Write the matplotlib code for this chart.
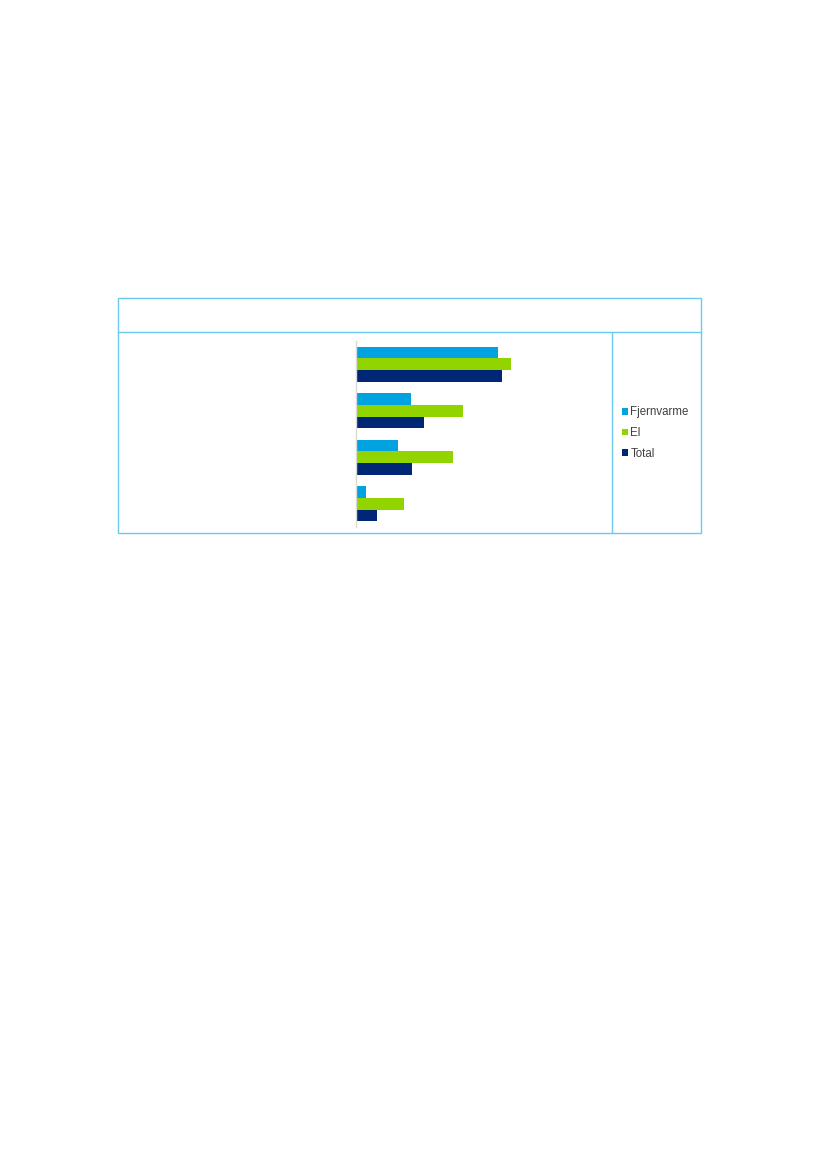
import matplotlib.pyplot as plt
import numpy as np
from matplotlib.patches import Rectangle
from matplotlib.lines import Line2D

plt.rcParams['font.family'] = ['Liberation Sans', 'DejaVu Sans']

W, H = 826, 1169

# groups top to bottom (no labels shown in the reference)
groups = ["A", "B", "C", "D"]
series = ["Fjernvarme", "El", "Total"]
fjernvarme = [29.6, 11.5, 8.7, 2.0]
el = [32.3, 22.2, 20.2, 10.1]
total = [30.4, 14.2, 11.7, 4.4]
colors = ['#00A3E0', '#92D400', '#002776']

fig = plt.figure(figsize=(W / 100, H / 100), dpi=100)


def fx(px):
    return px / W


def fy(py):
    return 1 - py / H


# frame around the chart, header line and legend divider
border = '#6CC9EF'
fig.add_artist(Rectangle((fx(118), fy(533)), fx(701) - fx(118), fy(298) - fy(533),
                         transform=fig.transFigure, fill=False, edgecolor=border, lw=1.0))
fig.add_artist(Line2D([fx(118), fx(701)], [fy(332), fy(332)], transform=fig.transFigure,
                      color=border, lw=1.0))
fig.add_artist(Line2D([fx(612), fx(612)], [fy(332), fy(533)], transform=fig.transFigure,
                      color=border, lw=1.0))

# plot area
ax = fig.add_axes([fx(356), fy(527), fx(596) - fx(356), fy(341) - fy(527)])
y = np.arange(len(groups))
h = 0.25
for off, vals, name, c in zip([-h, 0, h], [fjernvarme, el, total], series, colors):
    ax.barh(y + off, vals, height=h, color=c, label=name)

ax.set_xlim(0, 50)
ax.set_ylim(len(groups) - 0.5, -0.5)
for s in ['top', 'right', 'bottom']:
    ax.spines[s].set_visible(False)
ax.spines['left'].set_color('#d9d9d9')
ax.spines['left'].set_linewidth(1.0)
ax.set_xticks([])
ax.set_yticks([])

leg = ax.legend(loc='center left', bbox_to_anchor=(fx(616), fy(433)),
                bbox_transform=fig.transFigure, frameon=False, fontsize=8.3,
                handlelength=0.5, handleheight=0.5, handletextpad=0.25,
                labelspacing=0.75, borderpad=0, labelcolor='#404040')

plt.savefig("out.png", dpi=100)
